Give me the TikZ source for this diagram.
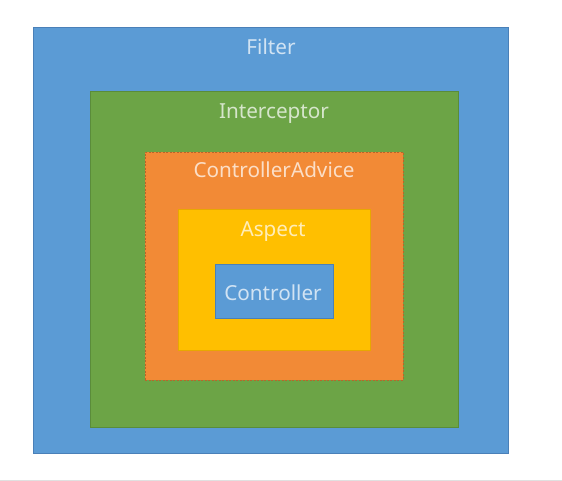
\documentclass[tikz,border=0pt]{standalone}
\usepackage{fontspec}
\setmainfont{Noto Sans}
\begin{document}
\begin{tikzpicture}[x=1pt,y=1pt,
  lbl/.style={text=white,text opacity=0.72,font=\fontsize{20.7}{24}\selectfont,inner sep=0pt,anchor=center}]
\definecolor{cblue}{HTML}{5B9BD5}
\definecolor{cbluedk}{HTML}{4A80B8}
\definecolor{cgreen}{HTML}{6CA446}
\definecolor{cgreendk}{HTML}{5A8C3A}
\definecolor{corange}{HTML}{F28A36}
\definecolor{corangedk}{HTML}{B8652A}
\definecolor{cyellow}{HTML}{FFBF00}
\definecolor{cyellowdk}{HTML}{E8A800}
\useasboundingbox (0,0) rectangle (562,481);
\fill[white] (0,0) rectangle (562,481);
\draw[black!12,line width=0.8pt] (0,1) -- (562,1);
\node[draw=cbluedk,fill=cblue,line width=0.8pt,inner sep=0pt,minimum width=475pt,minimum height=426pt,anchor=north west] (filter) at (33,454) {};
\node[draw=cgreendk,fill=cgreen,line width=0.8pt,inner sep=0pt,minimum width=368pt,minimum height=336pt,anchor=north west] (inter) at (90,390) {};
\node[draw=corangedk,fill=corange,line width=0.8pt,dash pattern=on 2pt off 1.5pt,inner sep=0pt,minimum width=258pt,minimum height=228pt,anchor=north west] (advice) at (145,329) {};
\node[draw=cyellowdk,fill=cyellow,line width=0.8pt,inner sep=0pt,minimum width=192pt,minimum height=141pt,anchor=north west] (aspect) at (178,272) {};
\node[draw=cbluedk,fill=cblue,line width=0.8pt,inner sep=0pt,minimum width=118pt,minimum height=54pt,anchor=north west] (ctrl) at (215,217) {};
\node[lbl] (tfilter) at (271,434) {Filter};
\node[lbl] (tinter) at (274,367) {Interceptor};
\node[lbl] (tadvice) at (274,311) {ControllerAdvice};
\node[lbl] (taspect) at (273,249) {Aspect};
\node[lbl] (tctrl) at (273,188) {Controller};
\end{tikzpicture}
\end{document}
